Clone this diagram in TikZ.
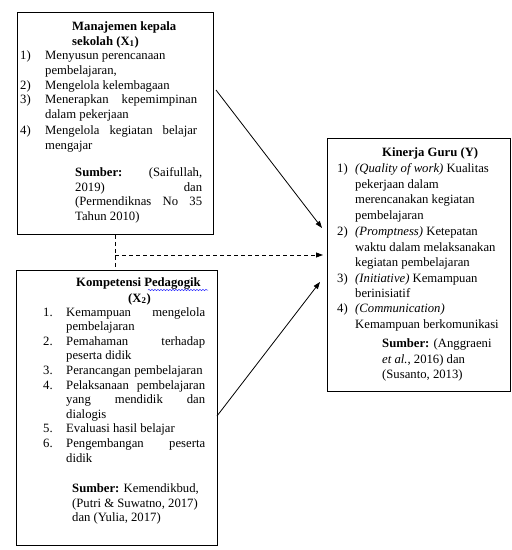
\documentclass[tikz,border=0pt]{standalone}
\usepackage{fontspec}
\setmainfont{Liberation Serif}
\usetikzlibrary{arrows.meta,decorations.pathmorphing}
\tikzset{
  box/.style={draw, line width=0.9pt, anchor=north west, inner sep=0pt},
  tx/.style={anchor=base west, inner sep=0pt, font=\fontsize{12.7}{15}\selectfont},
  conn/.style={line width=0.8pt, -{Triangle[length=7pt,width=5pt]}},
  dconn/.style={line width=0.8pt, dash pattern=on 4pt off 3pt}
}
\newcommand{\J}[2]{\makebox[#1pt][s]{#2}}
\begin{document}
\begin{tikzpicture}[x=1pt,y=-1pt]
\useasboundingbox (0,0) rectangle (512,550);
% boxes
\node[box, minimum width=196pt, minimum height=222pt] (b1) at (17,12) {};
\node[box, minimum width=201pt, minimum height=275pt] (b2) at (16,270) {};
\node[box, minimum width=183pt, minimum height=253pt] (by) at (327,138) {};

% box 1 text
\node[tx] (t1a) at (72,30) {\textbf{Manajemen kepala}};
\node[tx] (t1b) at (72,45) {\textbf{sekolah (X\textsubscript{1})}};
\node[tx] (n11) at (20,59.5) {1)};
\node[tx] (t11) at (45,59.5) {Menyusun perencanaan};
\node[tx] (t11b) at (45,74) {pembelajaran,};
\node[tx] (n12) at (20,89) {2)};
\node[tx] (t12) at (45,89) {Mengelola kelembagaan};
\node[tx] (n13) at (20,103.5) {3)};
\node[tx] (t13) at (45,103.5) {\J{152}{Menerapkan kepemimpinan}};
\node[tx] (t13b) at (45,118) {dalam pekerjaan};
\node[tx] (n14) at (20,134) {4)};
\node[tx] (t14) at (45,134) {\J{152}{Mengelola kegiatan belajar}};
\node[tx] (t14b) at (45,149) {mengajar};
\node[tx] (s1a) at (75,176) {\J{127}{\textbf{Sumber:} (Saifullah,}};
\node[tx] (s1b) at (75,191) {\J{127}{2019) dan}};
\node[tx] (s1c) at (75,205.5) {\J{127}{(Permendiknas No 35}};
\node[tx] (s1d) at (75,220) {Tahun 2010)};

% box 2 text
\node[tx] (t2a) at (76,286) {\textbf{Kompetensi Pedagogik}};
\draw[blue!80, line width=0.5pt, decorate, decoration={snake, amplitude=0.7pt, segment length=3pt}] (148,290) -- (208,290);
\node[tx] (t2b) at (128,302) {\textbf{(X\textsubscript{2})}};
\node[tx] (n21) at (43,316) {1.};
\node[tx] (t21) at (66,316) {\J{139}{Kemampuan mengelola}};
\node[tx] (t21b) at (66,330.6) {pembelajaran};
\node[tx] (n22) at (43,345.2) {2.};
\node[tx] (t22) at (66,345.2) {\J{139}{Pemahaman terhadap}};
\node[tx] (t22b) at (66,359.8) {peserta didik};
\node[tx] (n23) at (43,374.4) {3.};
\node[tx] (t23) at (66,374.4) {Perancangan pembelajaran};
\node[tx] (n24) at (43,389) {4.};
\node[tx] (t24) at (66,389) {\J{139}{Pelaksanaan pembelajaran}};
\node[tx] (t24b) at (66,403.6) {\J{139}{yang mendidik dan}};
\node[tx] (t24c) at (66,418.2) {dialogis};
\node[tx] (n25) at (43,432.8) {5.};
\node[tx] (t25) at (66,432.8) {Evaluasi hasil belajar};
\node[tx] (n26) at (43,447.4) {6.};
\node[tx] (t26) at (66,447.4) {\J{139}{Pengembangan peserta}};
\node[tx] (t26b) at (66,462) {didik};
\node[tx] (s2a) at (72,492) {\textbf{Sumber:} Kemendikbud,};
\node[tx] (s2b) at (72,507) {(Putri \& Suwatno, 2017)};
\node[tx] (s2c) at (72,521) {dan (Yulia, 2017)};

% box Y text
\node[tx] (tya) at (382,156) {\textbf{Kinerja Guru (Y)}};
\node[tx] (ny1) at (337,172) {1)};
\node[tx] (ty1) at (355,172) {\textit{(Quality of work)} Kualitas};
\node[tx] (ty1b) at (355,188) {pekerjaan dalam};
\node[tx] (ty1c) at (355,203) {merencanakan kegiatan};
\node[tx] (ty1d) at (355,219) {pembelajaran};
\node[tx] (ny2) at (337,235) {2)};
\node[tx] (ty2) at (355,235) {\textit{(Promptness)} Ketepatan};
\node[tx] (ty2b) at (355,251) {waktu dalam melaksanakan};
\node[tx] (ty2c) at (355,266) {kegiatan pembelajaran};
\node[tx] (ny3) at (337,282) {3)};
\node[tx] (ty3) at (355,282) {\textit{(Initiative)} Kemampuan};
\node[tx] (ty3b) at (355,297) {berinisiatif};
\node[tx] (ny4) at (337,312) {4)};
\node[tx] (ty4) at (355,312) {\textit{(Communication)}};
\node[tx] (ty4b) at (355,328) {Kemampuan berkomunikasi};
\node[tx] (sya) at (382,347) {\textbf{Sumber:} (Anggraeni};
\node[tx] (syb) at (382,363) {\textit{et al.}, 2016) dan};
\node[tx] (syc) at (382,378) {(Susanto, 2013)};

% connectors
\coordinate (a1s) at (216,90);
\coordinate (a1e) at (322,228);
\coordinate (dj) at (115,255);
\coordinate (d2e) at (323,255);
\coordinate (a3s) at (217,416);
\coordinate (a3e) at (320,282);
\draw[conn] (a1s) -- (a1e);
\draw[conn] (a3s) -- (a3e);
\draw[dconn] (b1.south) -- (b1.south |- b2.north);
\draw[dconn, -{Triangle[length=7pt,width=5pt]}] (dj) -- (d2e);
\end{tikzpicture}
\end{document}
